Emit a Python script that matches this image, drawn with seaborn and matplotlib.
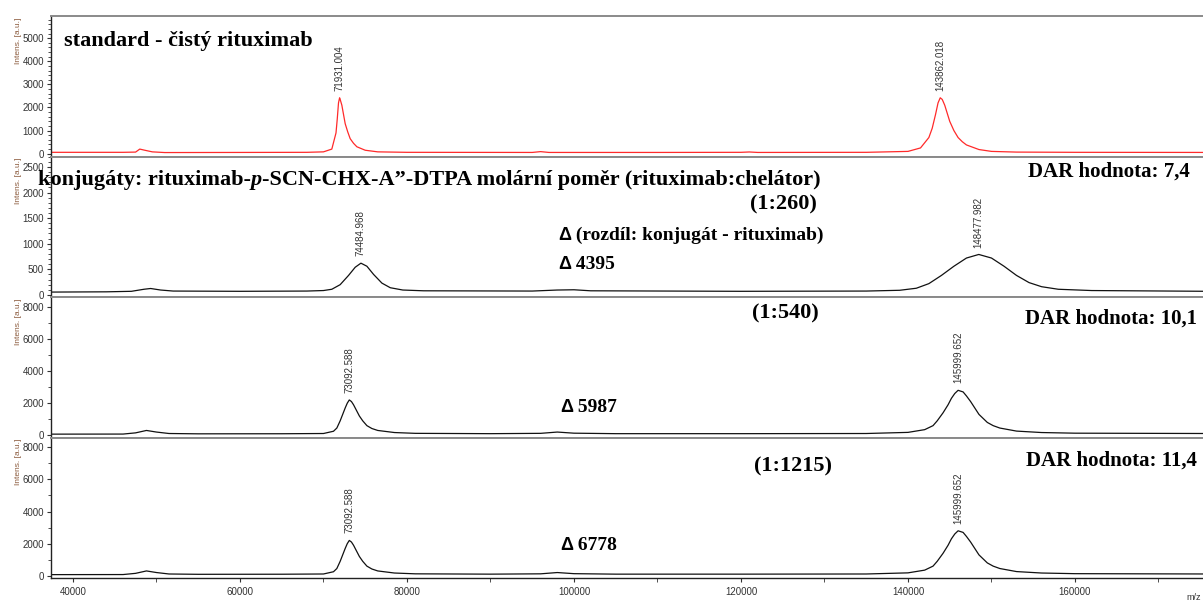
import numpy as np
import pandas as pd
import matplotlib.pyplot as plt
from matplotlib.ticker import MultipleLocator
from matplotlib.text import Annotation
import seaborn as sns

# spectra (m/z, intensity in a.u.)
std_mz = [37400, 46000, 47500, 48000, 48600, 49500, 51000, 60000, 68000, 70000, 71000, 71500,
          71650, 71800, 71931, 72000, 72200, 72400, 72600, 72900, 73200, 73600, 74000, 75000,
          76500, 80000, 95000, 96000, 97000, 110000, 120000, 121000, 122000, 135000, 140000,
          141500, 142500, 142900, 143300, 143600, 143862, 144100, 144400, 144700, 145000,
          145500, 146000, 146500, 147000, 148500, 150000, 153000, 160000, 176000]
std_int = [60, 60, 70, 200, 150, 80, 50, 55, 60, 80, 200, 900,
           1500, 2200, 2420, 2350, 2100, 1700, 1300, 950, 650, 450, 300, 150,
           80, 60, 55, 90, 55, 55, 60, 75, 55, 60, 100,
           250, 700, 1100, 1700, 2200, 2420, 2350, 2100, 1750, 1400,
           1000, 700, 520, 380, 180, 100, 70, 60, 55]

c260_mz = [37400, 44000, 47000, 48500, 49300, 50500, 52000, 60000, 68000, 70000, 71000, 72000,
           73000, 73800, 74485, 75200, 76000, 77000, 78000, 79500, 82000, 95000, 98000, 100000,
           102000, 120000, 135000, 139000, 141000, 142500, 144000, 145500, 147000, 148478,
           150000, 151500, 153000, 154500, 156000, 158000, 162000, 176000]
c260_int = [55, 60, 70, 110, 125, 95, 75, 70, 75, 85, 110, 200,
            380, 540, 620, 560, 400, 230, 140, 95, 80, 75, 95, 100,
            80, 70, 75, 90, 130, 220, 380, 560, 720, 790,
            720, 560, 380, 240, 160, 110, 85, 70]

c540_mz = [37400, 46000, 47500, 48800, 50000, 51500, 55000, 65000, 70000, 71200, 71600, 72000,
           72300, 72600, 72850, 73093, 73350, 73600, 73900, 74300, 74700, 75200, 75800, 76500,
           78500, 81000, 90000, 96000, 98000, 100000, 105000, 120000, 135000, 140000, 142000,
           143000, 143500, 144200, 144800, 145200, 145600, 146000, 146600, 147000, 147500,
           148000, 148500, 149000, 149500, 150200, 151000, 153000, 156000, 160000, 176000]
c540_int = [70, 75, 150, 300, 200, 110, 90, 95, 110, 250, 450, 900,
            1300, 1700, 2000, 2200, 2100, 1900, 1600, 1200, 900, 600, 420, 300,
            170, 120, 100, 120, 200, 130, 100, 100, 110, 180, 350,
            600, 900, 1400, 1900, 2300, 2600, 2800, 2700, 2450, 2100,
            1700, 1300, 1050, 800, 600, 450, 260, 170, 130, 110]

# the 1:1215 trace is the same as 1:540 in the figure
c1215_mz = c540_mz
c1215_int = c540_int

peak_labels = [["71931.004", "143862.018"], ["74484.968", "148477.982"],
               ["73092.588", "145999.652"], ["73092.588", "145999.652"]]
peak_pos = [[71931, 143862], [74485, 148478], [73093, 146000], [73093, 146000]]
peak_height = [[2420, 2420], [620, 790], [2200, 2800], [2200, 2800]]

ratios = ["(1:260)", "(1:540)", "(1:1215)"]
dar = ["DAR hodnota: 7,4", "DAR hodnota: 10,1", "DAR hodnota: 11,4"]
deltas = ["4395", "5987", "6778"]

spectra = [(std_mz, std_int), (c260_mz, c260_int), (c540_mz, c540_int), (c1215_mz, c1215_int)]
colors = ["#ff2a2a", "#111111", "#111111", "#111111"]
ylims = [(-130, 5950), (-45, 2700), (-150, 8600), (-150, 8600)]
ymajor = [1000, 500, 2000, 2000]
yminor = [200, 100, 1000, 1000]

sns.set_style("white")
plt.rcParams['font.family'] = ['Liberation Sans', 'DejaVu Sans']

fig, axes = plt.subplots(4, 1, figsize=(12.03, 6.01), dpi=100, sharex=True)
fig.subplots_adjust(left=0.0424, right=1.0, top=0.973, bottom=0.038, hspace=0)

for i, ax in enumerate(axes):
    df = pd.DataFrame({"mz": spectra[i][0], "intens": spectra[i][1]})
    sns.lineplot(data=df, x="mz", y="intens", color=colors[i], lw=0.9, ax=ax, estimator=None)
    ax.set_xlim(37370, 175330)
    ax.set_ylim(*ylims[i])
    ax.set_xlabel("")
    ax.set_ylabel("")
    ax.yaxis.set_major_locator(MultipleLocator(ymajor[i]))
    ax.yaxis.set_minor_locator(MultipleLocator(yminor[i]))
    ax.xaxis.set_major_locator(MultipleLocator(20000))
    ax.xaxis.set_minor_locator(MultipleLocator(10000))
    ax.tick_params(axis="y", which="both", left=True, direction="out", labelsize=7,
                   labelcolor="#333333", color="#333333", pad=2)
    ax.tick_params(axis="y", which="major", length=3)
    ax.tick_params(axis="y", which="minor", length=2)
    ax.tick_params(axis="x", which="both", bottom=(i == 3), length=3, direction="out",
                   labelsize=7, labelcolor="#333333", color="#333333")
    for s in ["top", "bottom"]:
        ax.spines[s].set_color("#8a8a8a")
        ax.spines[s].set_linewidth(1.4)
    ax.spines["left"].set_color("#222222")
    ax.spines["left"].set_linewidth(1.0)
    ax.spines["right"].set_visible(False)
    ax.text(-0.0286, 0.99, "Intens. [a.u.]", transform=ax.transAxes, rotation=90,
            va="top", ha="center", fontsize=6, color="#8b5a3c")
    for lab, x, h in zip(peak_labels[i], peak_pos[i], peak_height[i]):
        ax.annotate(lab, xy=(x, h), xytext=(0, 5), textcoords="offset points",
                    rotation=90, ha="center", va="bottom", fontsize=7, color="#333333")

axes[3].spines["bottom"].set_color("#222222")
axes[3].spines["bottom"].set_linewidth(1.0)


def px(x, y):
    return x / 1203, 1 - y / 601


def after(prev, text, **kw):
    # put a text right after another one, on the same baseline
    a = Annotation(text, xy=(1, 0), xycoords=prev, va="bottom", ha="left", **kw)
    fig.add_artist(a)
    return a


serif = dict(family="Liberation Serif", weight="bold", fontsize=16, color="black")
dar_font = dict(serif, fontsize=15)
delta_serif = dict(serif, fontsize=14)
sans = dict(family="Liberation Sans", weight="bold", fontsize=13, color="black")

fig.text(*px(64, 41), "standard - čistý rituximab", va="center", ha="left", **serif)

t1 = fig.text(*px(38, 180), "konjugáty: rituximab-", va="center", ha="left", **serif)
t2 = after(t1, "p", fontstyle="italic", **serif)
after(t2, "-SCN-CHX-A\u201d-DTPA molární poměr (rituximab:chelátor)", **serif)

ratio_pos = [(783, 204), (785, 313), (793, 466)]
dar_pos = [(1190, 172), (1197, 319), (1197, 461)]
delta_pos = [(558, 264), (560, 407), (560, 546)]
for r, (rx, ry), d, (dx, dy), dl, (lx, ly) in zip(ratios, ratio_pos, dar, dar_pos, deltas, delta_pos):
    fig.text(*px(rx, ry), r, va="center", ha="center", **serif)
    fig.text(*px(dx, dy), d, va="center", ha="right", **dar_font)
    tl = fig.text(*px(lx, ly), "\u0394", va="center", ha="left", **sans)
    after(tl, " " + dl, **delta_serif)

tr = fig.text(*px(558, 235), "\u0394", va="center", ha="left", **sans)
after(tr, " (rozdíl: konjugát - rituximab)", **delta_serif)

fig.text(*px(1201, 597), "m/z", va="center", ha="right", fontsize=6.5, color="#333333")

fig.savefig("out.png", dpi=100)
